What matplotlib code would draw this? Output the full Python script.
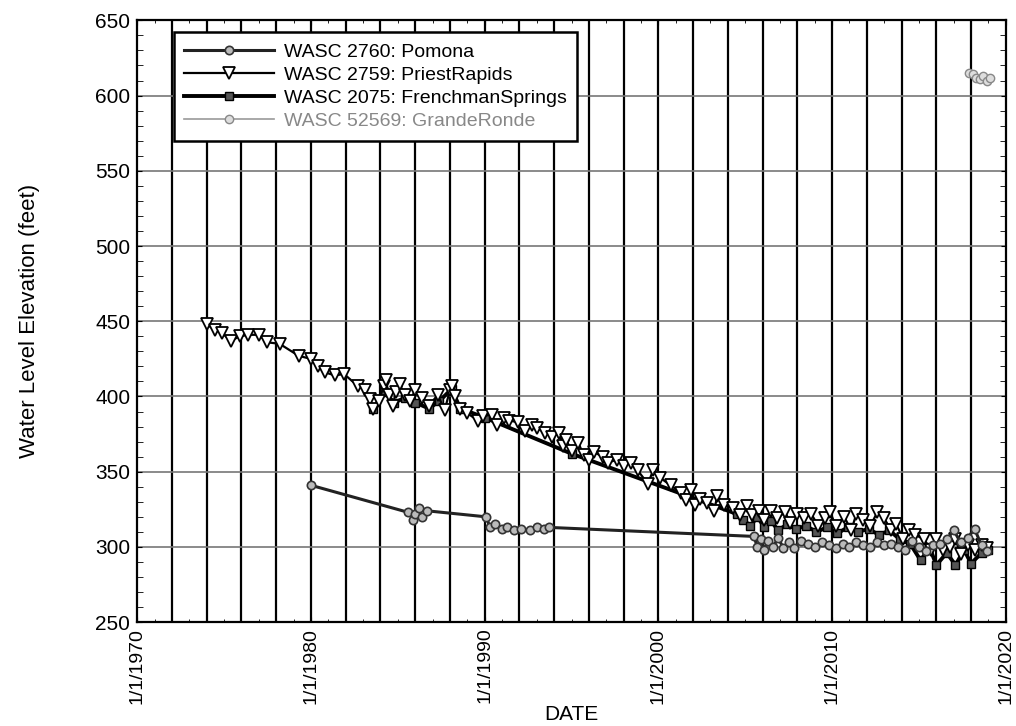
import numpy as np
import matplotlib
matplotlib.use("Agg")
import matplotlib.pyplot as plt
from matplotlib.ticker import MultipleLocator

plt.rcParams['font.family'] = ['Liberation Sans', 'DejaVu Sans']

# WASC 2760: Pomona
pomona_yr = [1980.0, 1985.6, 1985.9, 1986.0, 1986.2, 1986.4, 1986.7, 1990.1, 1990.3, 1990.6,
             1991.0, 1991.3, 1991.7, 1992.1, 1992.6, 1993.0, 1993.4, 1993.7, 2005.5, 2005.7,
             2005.9, 2006.1, 2006.3, 2006.6, 2006.9, 2007.2, 2007.5, 2007.8, 2008.2, 2008.6,
             2009.0, 2009.4, 2009.8, 2010.2, 2010.6, 2011.0, 2011.4, 2011.8, 2012.2, 2012.6,
             2013.0, 2013.4, 2013.8, 2014.2, 2014.6, 2015.0, 2015.4, 2015.8, 2016.2, 2016.6,
             2017.0, 2017.4, 2017.8, 2018.2, 2018.6, 2018.9]
pomona_val = [341, 323, 318, 322, 326, 320, 324, 320, 313, 315,
              312, 313, 311, 312, 311, 313, 312, 313, 307, 300,
              305, 298, 304, 300, 306, 299, 303, 299, 304, 302,
              300, 303, 301, 299, 302, 300, 303, 301, 300, 303,
              301, 302, 300, 298, 304, 300, 297, 301, 302, 305,
              311, 303, 306, 312, 301, 297]

# WASC 2759: PriestRapids
priest_yr = [1974.0, 1974.5, 1974.9, 1975.4, 1975.9, 1976.4, 1977.0, 1977.5, 1978.2, 1979.3,
             1980.0, 1980.4, 1980.8, 1981.4, 1981.9, 1982.7, 1983.1, 1983.4, 1983.6, 1983.9,
             1984.2, 1984.3, 1984.5, 1984.7, 1984.9, 1985.1, 1985.4, 1985.7, 1986.0, 1986.4,
             1986.8, 1987.3, 1987.7, 1988.0, 1988.1, 1988.3, 1988.6, 1989.0, 1989.6, 1989.9,
             1990.4, 1990.7, 1991.1, 1991.4, 1991.9, 1992.3, 1992.7, 1993.0, 1993.5, 1993.9,
             1994.3, 1994.5, 1994.7, 1995.0, 1995.4, 1995.7, 1996.0, 1996.3, 1996.8, 1997.1,
             1997.6, 1998.0, 1998.4, 1998.8, 1999.4, 1999.7, 2000.1, 2000.7, 2001.3, 2001.6,
             2001.9, 2002.1, 2002.4, 2002.8, 2003.2, 2003.4, 2003.8, 2004.3, 2004.7, 2005.1,
             2005.4, 2005.8, 2006.1, 2006.5, 2006.8, 2007.3, 2007.6, 2008.0, 2008.4, 2008.8,
             2009.2, 2009.6, 2009.9, 2010.2, 2010.7, 2011.1, 2011.4, 2011.8, 2012.2, 2012.6,
             2013.0, 2013.4, 2013.7, 2014.1, 2014.4, 2014.8, 2015.3, 2015.7, 2016.0, 2016.4,
             2016.8, 2017.1, 2017.4, 2017.8, 2018.2, 2018.6, 2018.9]
priest_val = [448, 444, 442, 437, 440, 441, 441, 436, 435, 427,
              425, 420, 416, 414, 415, 407, 404, 398, 392, 397,
              407, 411, 401, 394, 403, 408, 401, 397, 404, 399,
              394, 401, 391, 404, 407, 400, 392, 389, 384, 387,
              388, 381, 386, 384, 383, 377, 381, 379, 376, 373,
              376, 367, 371, 364, 369, 361, 358, 363, 360, 356,
              358, 354, 356, 351, 342, 351, 346, 341, 336, 331,
              338, 328, 332, 329, 324, 334, 328, 326, 321, 327,
              321, 324, 318, 324, 319, 323, 316, 322, 319, 322,
              314, 319, 323, 314, 320, 311, 322, 318, 314, 323,
              319, 311, 315, 305, 311, 308, 305, 298, 305, 298,
              300, 305, 295, 301, 298, 301, 299]

# WASC 2075: FrenchmanSprings
french_yr = [1983.6, 1984.2, 1984.8, 1985.4, 1986.0, 1986.8, 1987.4, 1988.1, 1988.6, 1990.0,
             1995.0, 2004.5, 2004.9, 2005.3, 2005.7, 2006.1, 2006.5, 2006.9, 2007.4, 2007.9,
             2008.5, 2009.1, 2009.7, 2010.3, 2010.9, 2011.5, 2012.1, 2012.7, 2013.3, 2013.9,
             2014.5, 2015.1, 2015.6, 2016.0, 2016.6, 2017.1, 2017.6, 2018.0, 2018.6, 2019.0]
french_val = [392, 403, 396, 399, 396, 392, 397, 405, 392, 386,
              362, 322, 318, 314, 320, 313, 317, 311, 315, 312,
              314, 310, 313, 309, 313, 310, 312, 308, 311, 305,
              302, 291, 300, 288, 296, 288, 298, 289, 296, 298]

# WASC 52569: GrandeRonde
grande_yr = [2017.9, 2018.1, 2018.3, 2018.5, 2018.7, 2018.9, 2019.1]
grande_val = [615, 614, 612, 611, 613, 610, 612]

year_ticks = [1970, 1980, 1990, 2000, 2010, 2020]
year_labels = ['1/1/1970', '1/1/1980', '1/1/1990', '1/1/2000', '1/1/2010', '1/1/2020']

narrow = ['Liberation Sans Narrow', 'Liberation Sans']

fig = plt.figure(figsize=(10.16, 7.26), dpi=100)
ax = fig.add_axes([0.135, 0.143, 0.855, 0.829])

# Gitter: senkrecht alle 2 Jahre, waagerecht alle 50 ft
for yr in range(1972, 2020, 2):
    ax.axvline(yr, color='black', lw=1.6, zorder=1)
for v in range(300, 650, 50):
    ax.axhline(v, color='#777777', lw=1.2, zorder=1)

ax.plot(pomona_yr, pomona_val, color='#222222', lw=2.2, marker='o', ms=6,
        mfc='#bbbbbb', mec='#333333', mew=1.2, label='WASC 2760: Pomona', zorder=4)
ax.plot(priest_yr, priest_val, color='black', lw=1.6, marker='v', ms=8,
        mfc='white', mec='black', mew=1.3, label='WASC 2759: PriestRapids', zorder=3)
ax.plot(french_yr, french_val, color='black', lw=2.8, marker='s', ms=6,
        mfc='#555555', mec='black', mew=1.0, label='WASC 2075: FrenchmanSprings', zorder=2)
ax.plot(grande_yr, grande_val, color='#999999', lw=1.2, marker='o', ms=6,
        mfc='#dddddd', mec='#888888', mew=1.0, label='WASC 52569: GrandeRonde', zorder=4)

ax.set_xlim(1970, 2020)
ax.set_ylim(250, 650)
ax.set_xticks(year_ticks)
ax.set_xticklabels(year_labels, rotation=90, fontsize=14, family=narrow)
ax.xaxis.set_minor_locator(MultipleLocator(1))
ax.yaxis.set_major_locator(MultipleLocator(50))
ax.yaxis.set_minor_locator(MultipleLocator(10))
ax.tick_params(axis='y', which='both', direction='in', right=True, labelsize=15, pad=5)
ax.tick_params(axis='y', which='minor', length=4)
ax.tick_params(axis='x', which='both', direction='in', top=True, pad=4)
for s in ax.spines.values():
    s.set_linewidth(1.6)

ax.set_ylabel('Water Level Elevation (feet)', fontsize=16, labelpad=40, family=narrow)
ax.set_xlabel('DATE', fontsize=15)
ax.xaxis.set_label_coords(0.5, -0.137)

leg = ax.legend(loc='upper left', bbox_to_anchor=(0.042, 0.98), borderaxespad=0,
                fontsize=14, frameon=True, fancybox=False, edgecolor='black',
                framealpha=1, handlelength=4.6, borderpad=0.55, labelspacing=0.28,
                handletextpad=0.5)
leg.get_frame().set_linewidth(1.8)
leg.get_texts()[3].set_color('#888888')
leg.set_zorder(10)

plt.savefig('out.png', dpi=100)
